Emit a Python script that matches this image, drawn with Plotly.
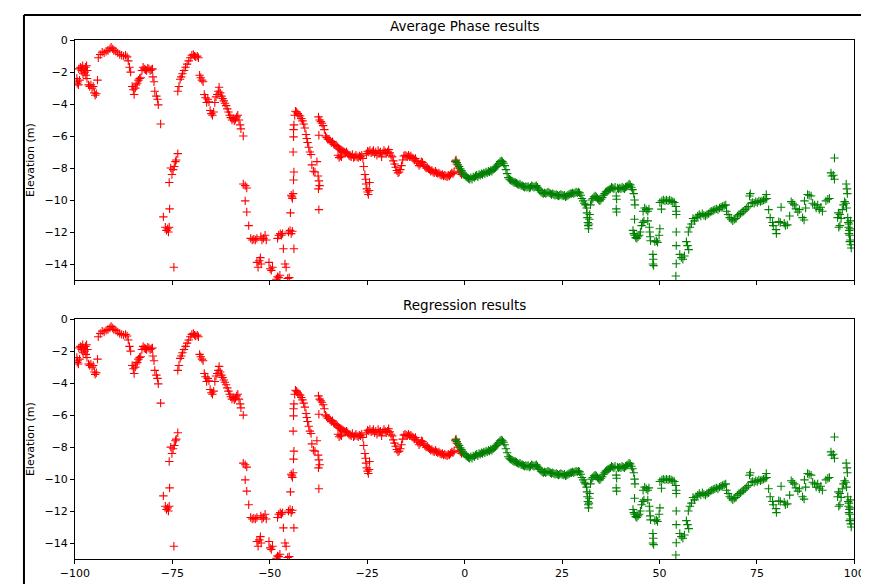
import plotly.graph_objects as go

# Points: (distance, elevation)
red_points = [
    (-99.5,-2.4),(-99.3,-2.6),(-99.1,-2.8),(-99.4,-2.7),(-98.8,-2.5),
    (-99.0,-1.8),(-98.6,-1.7),(-98.3,-1.9),(-98.0,-1.6),(-97.7,-1.8),(-97.5,-2.0),(-97.3,-1.7),
    (-97.0,-1.6),(-96.8,-1.9),(-97.9,-2.1),(-98.4,-1.75),(-97.2,-2.2),(-96.9,-2.4),
    (-96.5,-2.8),(-96.2,-2.9),(-95.9,-2.8),(-95.6,-3.0),(-95.3,-2.9),
    (-95.0,-3.3),(-94.8,-3.45),(-94.5,-3.35),(-94.2,-2.5),(-94.0,-1.1),
    (-93.5,-0.9),(-93.0,-0.75),(-92.5,-0.8),(-92.0,-0.7),(-91.5,-0.65),(-91.0,-0.55),(-90.7,-0.45),
    (-90.3,-0.55),(-90.0,-0.65),(-89.5,-0.7),(-89.0,-0.8),(-88.5,-0.9),(-88.0,-0.95),(-87.5,-1.0),
    (-87.0,-0.95),(-86.6,-1.05),(-86.3,-1.3),(-86.0,-1.7),(-85.7,-2.0),
    (-85.3,-2.9),(-85.0,-3.1),(-84.8,-3.4),(-84.5,-3.0),(-84.3,-2.8),(-84.0,-2.7),(-83.7,-2.5),
    (-83.4,-2.4),(-83.1,-2.35),
    (-82.8,-1.9),(-82.5,-1.7),(-82.2,-1.8),(-81.9,-1.85),(-81.6,-1.9),(-81.3,-1.75),(-81.0,-1.8),
    (-80.7,-1.9),(-80.4,-1.85),(-80.1,-1.8),
    (-80.0,-2.3),(-79.7,-2.6),(-79.5,-3.2),(-79.1,-3.5),(-78.8,-3.7),(-78.6,-4.05),(-78.0,-5.25),
    (-77.3,-11.05),(-76.8,-11.7),(-76.5,-11.9),(-76.2,-11.8),(-76.0,-12.0),(-75.8,-11.7),(-75.7,-10.55),
    (-75.8,-8.9),(-75.4,-8.0),(-75.1,-8.4),(-74.8,-8.1),(-74.5,-7.9),(-74.2,-7.6),(-74.0,-7.5),(-73.6,-7.1),
    (-74.6,-14.2),
    (-73.6,-3.2),(-73.3,-2.9),(-73.0,-2.45),(-72.7,-2.3),(-72.4,-2.1),(-72.0,-1.9),(-71.6,-1.7),
    (-71.2,-1.5),(-70.8,-1.3),(-70.4,-1.1),(-70.0,-0.95),(-69.6,-0.9),(-69.3,-1.0),(-69.0,-1.05),
    (-68.6,-1.0),(-68.3,-1.1),
    (-68.0,-2.2),(-67.7,-2.35),(-67.4,-2.5),(-67.1,-2.6),(-66.8,-3.4),(-66.5,-3.6),(-66.2,-3.9),
    (-65.9,-3.7),(-65.6,-3.85),(-65.3,-4.4),(-65.0,-4.6),(-64.7,-4.7),(-64.4,-4.5),(-64.1,-3.9),
    (-63.8,-3.55),(-63.5,-3.4),(-63.2,-3.2),(-63.0,-2.95),(-62.7,-3.3),(-62.4,-3.5),(-62.1,-3.65),
    (-61.8,-3.8),(-61.5,-3.95),(-61.2,-4.1),(-60.9,-4.3),(-60.6,-4.5),(-60.3,-4.7),(-60.0,-4.85),
    (-59.7,-5.0),(-59.4,-4.9),(-59.1,-5.05),(-58.8,-4.95),(-58.5,-4.8),(-58.2,-4.7),(-57.9,-5.0),
    (-57.6,-5.3),(-57.4,-5.55),(-56.8,-6.0),
    (-56.8,-9.0),(-56.3,-9.1),(-55.9,-9.25),(-56.3,-10.05),(-55.9,-10.75),(-55.4,-11.6),(-54.9,-12.4),
    (-54.5,-12.5),(-54.1,-12.45),(-53.7,-12.5),(-53.3,-12.4),(-52.3,-12.3),(-52.0,-12.5),(-51.6,-12.4),
    (-51.2,-12.2),(-50.9,-12.5),(-53.3,-13.9),(-53.0,-14.2),(-52.7,-13.8),(-52.4,-13.6),(-52.2,-14.0),
    (-50.2,-13.9),(-49.9,-14.3),(-49.6,-14.4),(-49.3,-14.2),(-48.3,-14.95),(-48.0,-14.8),(-47.7,-14.85),
    (-47.4,-14.7),(-48.0,-12.4),(-47.7,-12.2),(-47.3,-12.1),(-47.0,-12.2),(-46.7,-12.1),(-46.5,-13.05),
    (-46.1,-14.0),(-45.8,-14.2),(-45.4,-14.9),(-45.0,-14.85),(-45.2,-12.0),(-44.8,-11.9),(-44.5,-12.1),
    (-44.2,-11.95),(-44.7,-10.8),(-44.5,-9.7),(-44.2,-9.9),(-44.0,-9.6),(-44.3,-9.8),(-43.9,-8.75),
    (-43.8,-8.25),(-43.8,-13.05),(-44.0,-7.0),(-43.9,-6.05),(-43.9,-5.6),(-43.8,-5.3),(-43.6,-4.7),
    (-43.4,-4.45),(-43.1,-4.5),(-42.8,-4.6),(-42.5,-4.7),(-42.2,-4.75),(-41.9,-4.9),(-41.6,-5.05),
    (-41.3,-5.25),(-41.0,-5.5),(-40.7,-5.9),(-40.5,-6.15),(-40.3,-6.4),(-40.0,-6.7),(-39.7,-7.0),
    (-39.4,-7.15),(-39.2,-7.8),(-38.8,-8.2),(-38.4,-8.25),(-37.9,-7.6),(-37.6,-8.5),(-37.4,-8.8),
    (-37.2,-9.1),(-37.5,-9.3),(-37.4,-10.6),(-37.4,-5.95),
    (-37.5,-4.8),(-37.2,-5.0),(-36.9,-5.1),(-36.6,-5.2),(-36.3,-5.35),(-36.0,-5.6),
    (-35.7,-6.0),(-35.4,-6.1),(-35.1,-6.2),(-34.8,-6.2),(-34.5,-6.3),(-34.2,-6.4),(-33.9,-6.35),
    (-33.6,-6.5),(-33.3,-6.55),(-33.0,-6.6),(-32.7,-6.65),(-32.5,-7.2),(-32.2,-7.35),(-31.9,-7.25),
    (-31.6,-7.3),(-32.4,-6.75),(-32.1,-6.8),(-31.8,-6.85),(-31.5,-6.9),(-31.2,-6.95),(-30.9,-7.0),
    (-30.6,-7.05),(-30.3,-7.0),(-30.0,-7.1),(-29.7,-7.2),(-29.4,-7.25),(-29.1,-7.3),(-28.8,-7.15),
    (-28.5,-7.35),(-28.2,-7.3),(-27.9,-7.2),(-27.6,-7.3),(-27.3,-7.35),(-27.0,-7.25),(-26.7,-7.3),
    (-26.4,-7.2),(-26.1,-7.4),(-25.9,-7.9),(-25.6,-8.4),(-25.4,-8.7),(-25.3,-9.0),(-25.1,-9.3),
    (-24.9,-9.5),(-24.7,-9.65),(-24.5,-9.4),(-24.4,-8.9),
    (-25.2,-7.1),(-24.9,-6.95),(-24.6,-7.0),(-24.3,-6.9),(-24.0,-7.05),(-23.7,-7.0),(-23.4,-6.9),
    (-23.1,-7.1),(-22.8,-7.0),(-22.5,-7.2),(-22.2,-6.9),(-21.9,-7.05),(-21.6,-7.0),(-21.3,-7.3),
    (-21.0,-7.05),(-20.7,-6.9),(-20.4,-7.0),(-20.1,-7.1),(-19.8,-7.0),(-19.5,-6.85),(-19.2,-7.05),
    (-18.9,-7.2),(-18.6,-7.3),(-18.3,-7.55),(-18.0,-7.75),(-17.7,-7.95),(-17.4,-8.15),(-17.1,-8.3),
    (-16.8,-8.25),(-16.5,-8.1),(-16.2,-7.85),(-15.9,-7.5),(-15.6,-7.25),(-15.3,-7.2),(-15.0,-7.25),
    (-14.7,-7.3),(-14.4,-7.2),(-14.1,-7.3),(-13.8,-7.25),(-13.5,-7.35),(-13.2,-7.4),(-12.9,-7.5),
    (-12.6,-7.4),(-12.3,-7.55),(-12.0,-7.7),(-11.7,-7.85),(-11.4,-7.75),(-11.1,-7.6),(-10.8,-7.65),
    (-10.5,-7.8),(-10.2,-7.9),(-9.9,-8.0),(-9.6,-7.95),(-9.3,-8.05),(-9.0,-8.1),(-8.7,-8.2),
    (-8.4,-8.15),(-8.1,-8.25),(-7.8,-8.3),(-7.5,-8.2),(-7.2,-8.3),(-6.9,-8.35),(-6.6,-8.3),
    (-6.3,-8.4),(-6.0,-8.45),(-5.7,-8.4),(-5.4,-8.5),(-5.1,-8.45),(-4.8,-8.5),(-4.5,-8.55),
    (-4.2,-8.45),(-3.9,-8.5),(-3.6,-8.4),(-3.3,-8.3),(-3.0,-8.35),(-2.7,-8.25),(-2.4,-7.6),
    (-2.2,-7.5),(-2.0,-7.75),(-1.7,-8.0),(-1.4,-8.2),(-1.1,-8.3),(-0.8,-8.4),
]

green_points = [
    (-2.3,-7.55),(-2.0,-7.65),(-1.7,-7.8),(-1.4,-7.9),(-1.1,-8.05),(-0.8,-8.15),(-0.5,-8.3),
    (-0.2,-8.4),(0.1,-8.45),(0.4,-8.55),(0.7,-8.6),(1.0,-8.65),(1.3,-8.7),(1.6,-8.6),(1.9,-8.7),
    (2.2,-8.55),(2.5,-8.6),(2.8,-8.5),(3.1,-8.45),(3.4,-8.55),(3.7,-8.4),(4.0,-8.45),(4.3,-8.35),
    (4.6,-8.4),(4.9,-8.3),(5.2,-8.35),(5.5,-8.25),(5.8,-8.3),(6.1,-8.2),(6.4,-8.25),(6.7,-8.15),
    (7.0,-8.2),(7.3,-8.1),(7.6,-8.05),(7.9,-7.95),(8.2,-7.9),(8.5,-7.8),(8.8,-7.7),(9.1,-7.6),
    (9.4,-7.55),(9.7,-7.6),(10.0,-7.7),(10.3,-7.85),(10.6,-8.1),(10.9,-8.35),(11.2,-8.6),(11.5,-8.7),
    (11.8,-8.75),(12.1,-8.8),(12.4,-8.85),(12.7,-8.9),(13.0,-8.9),(13.3,-8.95),(13.6,-9.0),
    (13.9,-9.05),(14.2,-9.0),(14.5,-9.1),(14.8,-9.1),(15.1,-9.15),(15.4,-9.2),(15.7,-9.15),
    (16.0,-9.2),(16.3,-9.15),(16.6,-9.25),(16.9,-9.2),(17.2,-9.1),(17.5,-9.15),(17.8,-9.2),
    (18.1,-9.15),(18.4,-9.1),(18.7,-9.2),(19.0,-9.3),(19.3,-9.4),(19.6,-9.5),(19.9,-9.55),
    (20.2,-9.6),(20.5,-9.55),(20.8,-9.6),(21.1,-9.55),(21.4,-9.5),(21.7,-9.55),(22.0,-9.6),
    (22.3,-9.65),(22.6,-9.6),(22.9,-9.65),(23.2,-9.7),(23.5,-9.65),(23.8,-9.7),(24.1,-9.75),
    (24.4,-9.7),(24.7,-9.65),(25.0,-9.7),(25.3,-9.75),(25.6,-9.7),(25.9,-9.8),(26.2,-9.75),
    (26.5,-9.7),(26.8,-9.65),(27.1,-9.6),(27.4,-9.6),(27.7,-9.55),(28.0,-9.6),(28.3,-9.55),
    (28.6,-9.5),(28.9,-9.55),(29.2,-9.5),(29.5,-9.55),(29.8,-9.7),(30.1,-9.9),(30.4,-10.05),
    (30.7,-10.2),(31.0,-10.3),(31.3,-10.5),(31.4,-10.8),(31.5,-11.1),(31.6,-11.4),(31.7,-11.6),
    (31.8,-11.8),(31.9,-11.5),(32.0,-11.2),(32.1,-10.9),(32.3,-10.3),(32.6,-10.0),(32.9,-9.9),
    (33.2,-9.8),(33.5,-9.75),(33.8,-9.8),(34.1,-9.9),(34.4,-10.0),(34.7,-10.05),(35.0,-9.95),
    (35.3,-9.85),(35.6,-9.7),(35.9,-9.6),(36.2,-9.5),(36.5,-9.45),(36.8,-9.4),(37.1,-9.35),
    (37.4,-9.3),(37.7,-9.2),(38.0,-9.25),(38.3,-9.3),(38.6,-9.2),(38.9,-9.75),(39.0,-9.95),
    (38.9,-10.55),(39.0,-10.75),(39.2,-9.25),(39.5,-9.3),(39.8,-9.25),(40.1,-9.3),(40.4,-9.2),
    (40.7,-9.25),(41.0,-9.3),(41.3,-9.2),(41.6,-9.15),(41.9,-9.1),(42.2,-9.0),(42.5,-9.05),
    (42.8,-9.2),(43.1,-9.35),(43.4,-9.6),(43.6,-10.0),(43.7,-10.3),
    (43.6,-11.2),(43.2,-11.9),(43.4,-12.1),(43.6,-12.2),(43.9,-12.35),(44.2,-12.4),(44.5,-12.3),
    (44.8,-12.2),(45.1,-12.0),(45.4,-11.6),(45.7,-11.4),(46.0,-11.3),(45.8,-10.7),(46.2,-10.5),
    (46.6,-10.6),(47.0,-10.7),(47.3,-10.55),(47.0,-11.3),(47.4,-11.7),(47.5,-12.0),(47.6,-12.3),
    (47.7,-12.55),(48.3,-13.4),(48.4,-13.7),(48.3,-14.0),(48.5,-14.1),(48.8,-12.6),(49.2,-12.55),
    (49.5,-12.65),(49.9,-12.2),(50.1,-11.8),(50.1,-10.15),(50.5,-10.57),(50.6,-10.05),(51.0,-10.0),
    (51.4,-10.05),(51.8,-10.0),(52.2,-10.05),(52.6,-10.0),(53.0,-10.05),(53.4,-10.1),(53.8,-10.15),
    (54.2,-10.4),(54.3,-10.7),(54.3,-10.9),(54.3,-12.0),(54.3,-12.85),(54.3,-13.98),(54.2,-14.75),
    (55.2,-13.4),(55.6,-13.6),(56.0,-13.7),(56.4,-13.5),(56.9,-12.6),(57.2,-12.85),(57.5,-13.1),
    (57.4,-12.0),(57.8,-11.7),(58.2,-11.5),(58.6,-11.15),(59.0,-11.3),(59.4,-11.1),(59.8,-11.0),
    (60.2,-10.9),(60.6,-11.0),(61.0,-10.85),(61.4,-10.95),(61.8,-11.0),(62.2,-10.9),(62.6,-10.85),
    (63.0,-10.75),(63.4,-10.7),(63.8,-10.65),(64.2,-10.6),(64.6,-10.55),(65.0,-10.6),(65.4,-10.5),
    (65.8,-10.45),(66.2,-10.4),(66.6,-10.35),(67.0,-10.3),(67.2,-10.7),(67.6,-10.9),(68.0,-11.1),
    (68.4,-11.2),(68.8,-11.3),(69.2,-11.2),(69.6,-11.15),(70.0,-11.0),(70.4,-10.9),(70.8,-10.85),
    (71.2,-10.75),(71.6,-10.7),(72.0,-10.6),(72.4,-10.5),(72.8,-10.4),(73.1,-9.75),(73.3,-9.6),
    (73.5,-10.2),(73.9,-10.15),(74.3,-10.2),(74.7,-10.1),(75.1,-10.15),(75.5,-10.05),(75.9,-10.1),
    (76.3,-10.05),(76.7,-10.0),(77.1,-9.95),(77.4,-9.65),(77.5,-9.9),(78.0,-10.6),(78.4,-11.1),
    (79.0,-11.4),(79.2,-11.6),(79.9,-11.85),(80.0,-12.1),(80.6,-11.35),(81.0,-11.4),(81.2,-10.45),
    (82.0,-11.45),(82.3,-11.6),(82.8,-11.55),(83.4,-11.0),(83.8,-10.1),(84.2,-10.2),(84.6,-10.3),
    (85.0,-10.55),(85.5,-10.75),(85.9,-10.6),(86.7,-11.1),(87.1,-11.25),(87.5,-10.5),(87.2,-10.05),
    (88.0,-9.65),(88.4,-9.7),(88.9,-9.75),(89.3,-10.2),(89.8,-10.3),(90.2,-10.5),(90.6,-10.3),
    (91.0,-10.6),(91.4,-10.45),(91.8,-10.7),(92.7,-10.05),(93.2,-9.95),(93.6,-9.9),(94.0,-8.3),
    (94.2,-8.5),(94.6,-8.45),(94.9,-8.7),(94.9,-7.37),(95.7,-11.1),(96.0,-11.7),(96.3,-11.6),
    (96.6,-11.15),(95.9,-10.8),(96.3,-10.9),(96.9,-10.6),(97.2,-10.3),(97.5,-10.1),(97.8,-10.2),
    (98.0,-10.5),(97.9,-9.0),(98.1,-9.3),(98.2,-9.6),(98.3,-11.1),(98.4,-11.4),(98.5,-11.7),
    (98.6,-11.5),(98.7,-11.9),(98.8,-12.2),(98.9,-11.8),(99.0,-12.5),(99.1,-12.8),(99.2,-13.0),
    (98.6,-12.1),(98.8,-12.6),(99.0,-11.3),
]

panel_titles = ["Average Phase results", "Regression results"]
x_ticks = [-100, -75, -50, -25, 0, 25, 50, 75, 100]
y_ticks = [0, -2, -4, -6, -8, -10, -12, -14]
y_label = "Elevation (m)"

red_x = [p[0] for p in red_points]
red_y = [p[1] for p in red_points]
green_x = [p[0] for p in green_points]
green_y = [p[1] for p in green_points]

W, H = 869, 584
FONT = "DejaVu Sans"

# measured mapping from figure pixels to the final picture: pic = a + s * fig
AX, SX = 22.0, 0.972
AY, SY = 14.0, 0.986


def fx(px):
    return max(0.0, min(1.0, (px - AX) / SX / W))


def fy(py):
    return max(0.0, min(1.0, 1 - (py - AY) / SY / H))


fig = go.Figure()


def marker(color):
    return dict(symbol="cross-thin", size=6, color=color, line=dict(color=color, width=1.1))


for xa, ya in [("x", "y"), ("x2", "y2")]:
    fig.add_trace(go.Scatter(x=red_x, y=red_y, mode="markers", marker=marker("#ff0000"),
                             xaxis=xa, yaxis=ya, showlegend=False, hoverinfo="x+y"))
    fig.add_trace(go.Scatter(x=green_x, y=green_y, mode="markers", marker=marker("#008000"),
                             xaxis=xa, yaxis=ya, showlegend=False, hoverinfo="x+y"))

# target positions in the reference picture (pixels)
ref_x0, ref_x1 = 74, 855
ref_top = (40, 279)
ref_bot = (318, 557)
xd = [fx(ref_x0), fx(ref_x1)]

axis_common = dict(
    showline=True, linecolor="#000000", linewidth=1, mirror=True,
    ticks="outside", ticklen=4, tickwidth=1, tickcolor="#000000",
    showgrid=False, zeroline=False,
    tickfont=dict(family=FONT, size=11, color="#000000"),
)

fig.update_layout(
    width=W, height=H,
    margin=dict(l=0, r=0, t=0, b=0),
    paper_bgcolor="white", plot_bgcolor="white",
    font=dict(family=FONT, color="#000000"),
    xaxis=dict(domain=xd, range=[-100, 100], tickvals=x_ticks, showticklabels=False,
               anchor="y", **axis_common),
    yaxis=dict(domain=[fy(ref_top[1]), fy(ref_top[0])], range=[-15, 0], tickvals=y_ticks,
               anchor="x", **axis_common),
    xaxis2=dict(domain=xd, range=[-100, 100], tickvals=x_ticks, anchor="y2", **axis_common),
    yaxis2=dict(domain=[fy(ref_bot[1]), fy(ref_bot[0])], range=[-15, 0], tickvals=y_ticks,
                anchor="x2", **axis_common),
)

cx = fx((ref_x0 + ref_x1) / 2)
title_font = dict(family=FONT, size=13.5, color="#000000")
label_font = dict(family=FONT, size=11, color="#000000")
annotations = [
    dict(text=panel_titles[0], x=cx, y=fy(26), xref="paper", yref="paper",
         showarrow=False, font=title_font, xanchor="center", yanchor="middle"),
    dict(text=panel_titles[1], x=cx, y=fy(304), xref="paper", yref="paper",
         showarrow=False, font=title_font, xanchor="center", yanchor="middle"),
    dict(text=y_label, x=fx(29), y=fy(sum(ref_top) / 2), xref="paper", yref="paper",
         showarrow=False, textangle=-90, font=label_font, xanchor="center", yanchor="middle"),
    dict(text=y_label, x=fx(29), y=fy(sum(ref_bot) / 2), xref="paper", yref="paper",
         showarrow=False, textangle=-90, font=label_font, xanchor="center", yanchor="middle"),
]
fig.update_layout(annotations=annotations)

# outer frame lines (left and top) seen in the reference screenshot
fig.update_layout(shapes=[
    dict(type="line", xref="paper", yref="paper", x0=1.0 / W, x1=1.0 / W, y0=0, y1=1 - 1.0 / H,
         line=dict(color="#000000", width=2)),
    dict(type="line", xref="paper", yref="paper", x0=1.0 / W, x1=1, y0=1 - 1.0 / H, y1=1 - 1.0 / H,
         line=dict(color="#000000", width=2)),
])

fig.write_html("out.html")
